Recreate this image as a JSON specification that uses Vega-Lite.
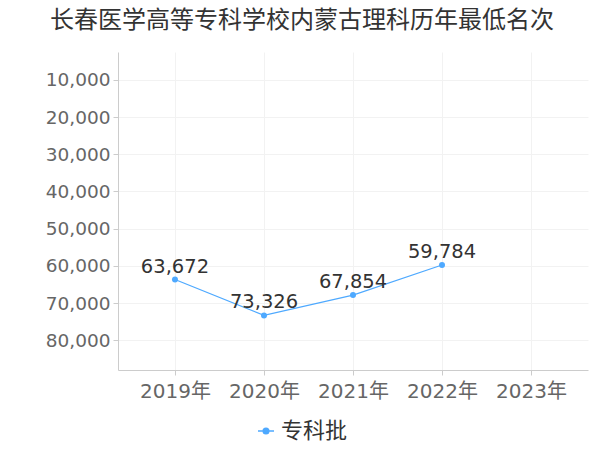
{
  "$schema": "https://vega.github.io/schema/vega-lite/v6.json",
  "width": 470,
  "height": 318,
  "autosize": {"type": "none"},
  "padding": {"left": 118, "top": 52, "right": 12, "bottom": 80},
  "background": "white",
  "title": {
    "text": "长春医学高等专科学校内蒙古理科历年最低名次",
    "font": "DejaVu Sans, Noto Sans CJK SC",
    "fontSize": 24,
    "fontWeight": "normal",
    "color": "#333333",
    "anchor": "middle",
    "frame": "group",
    "dx": -51,
    "offset": 19
  },
  "config": {
    "view": {"stroke": null},
    "font": "DejaVu Sans, Noto Sans CJK SC",
    "axis": {
      "domainColor": "#cccccc",
      "tickColor": "#cccccc",
      "gridColor": "#f2f2f2",
      "labelColor": "#666666",
      "labelFontSize": 18.5,
      "labelFont": "DejaVu Sans, Noto Sans CJK SC",
      "tickSize": 5,
      "title": null
    }
  },
  "data": {
    "values": [
      {"year": "2019年", "rank": 63672, "batch": "专科批"},
      {"year": "2020年", "rank": 73326, "batch": "专科批"},
      {"year": "2021年", "rank": 67854, "batch": "专科批"},
      {"year": "2022年", "rank": 59784, "batch": "专科批"}
    ]
  },
  "encoding": {
    "x": {
      "field": "year",
      "type": "ordinal",
      "scale": {"type": "point", "domain": ["2019年", "2020年", "2021年", "2022年", "2023年"], "padding": 0.64},
      "axis": {"labelAngle": 0, "grid": true, "labelPadding": 6, "labelFontSize": 20}
    },
    "y": {
      "field": "rank",
      "type": "quantitative",
      "scale": {"domain": [2500, 88000], "reverse": true, "nice": false, "zero": false},
      "axis": {"values": [10000, 20000, 30000, 40000, 50000, 60000, 70000, 80000], "labelExpr": "format(datum.value, ',')", "grid": true, "labelPadding": 3}
    }
  },
  "layer": [
    {
      "mark": {"type": "line", "color": "#4ea9ff", "strokeWidth": 1.2},
      "encoding": {
        "color": {
          "field": "batch",
          "type": "nominal",
          "scale": {"range": ["#4ea9ff"]},
          "legend": {
            "orient": "none",
            "legendX": 137,
            "legendY": 368,
            "title": null,
            "labelFontSize": 22,
            "labelColor": "#333333",
            "labelFont": "DejaVu Sans, Noto Sans CJK SC",
            "symbolType": "M-1,0L1,0M-0.35,0A0.35,0.35 0 1,0 0.35,0A0.35,0.35 0 1,0 -0.35,0",
            "symbolSize": 256,
            "symbolStrokeWidth": 1.5,
            "symbolFillColor": "#4ea9ff",
            "symbolStrokeColor": "#4ea9ff",
            "labelOffset": 4
          }
        }
      }
    },
    {
      "mark": {"type": "circle", "color": "#4ea9ff", "opacity": 1, "size": 36}
    },
    {
      "mark": {"type": "text", "baseline": "middle", "dy": -13, "fontSize": 19.5, "color": "#333333"},
      "encoding": {
        "text": {"field": "rank", "type": "quantitative", "format": ","}
      }
    }
  ]
}
